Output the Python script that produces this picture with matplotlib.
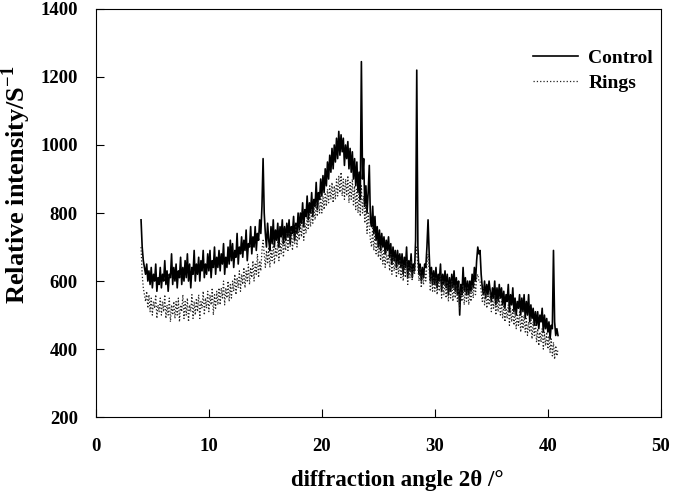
import numpy as np
import matplotlib.pyplot as plt

plt.rcParams['font.family'] = ['Liberation Serif', 'DejaVu Serif']
plt.rcParams['font.weight'] = 'bold'
plt.rcParams['mathtext.fontset'] = 'custom'
plt.rcParams['mathtext.rm'] = 'Liberation Serif:bold'
plt.rcParams['mathtext.bf'] = 'Liberation Serif:bold'

# diffraction angle, 4.0 .. 40.9 in 0.1 steps
angle = np.round(np.arange(4.0, 41.0, 0.1), 1)

control = [
    780, 700, 660, 640, 620, 650, 600, 630, 590, 640,
    580, 620, 600, 650, 570, 610, 590, 640, 580, 620,
    600, 660, 590, 630, 570, 620, 610, 680, 590, 640,
    600, 650, 580, 630, 610, 670, 590, 640, 600, 660,
    610, 680, 600, 650, 580, 640, 620, 690, 600, 650,
    620, 670, 600, 660, 630, 690, 610, 650, 620, 680,
    630, 690, 610, 660, 640, 700, 620, 670, 640, 690,
    630, 680, 650, 710, 620, 670, 640, 700, 650, 720,
    660, 710, 640, 690, 670, 740, 650, 700, 680, 730,
    670, 720, 690, 750, 660, 710, 700, 760, 680, 730,
    700, 760, 690, 740, 720, 780, 740, 820, 960, 800,
    740, 700, 770, 720, 690, 760, 710, 780, 700, 750,
    720, 770, 700, 760, 730, 780, 710, 760, 720, 770,
    730, 780, 710, 760, 740, 790, 720, 770, 740, 800,
    750, 800, 770, 830, 760, 810, 790, 850, 780, 830,
    800, 860, 790, 840, 820, 890, 810, 860, 840, 900,
    850, 910, 860, 930, 880, 950, 900, 970, 920, 990,
    930, 1000, 950, 1020, 960, 1040, 970, 1030, 980, 1020,
    940, 1000, 960, 1010, 930, 990, 920, 980, 900, 960,
    880, 950, 860, 920, 840, 1245, 900, 960, 820, 880,
    800, 860, 940, 780, 760, 820, 740, 790, 720, 760,
    700, 750, 690, 740, 700, 730, 680, 720, 690, 730,
    670, 710, 650, 700, 660, 690, 640, 690, 650, 680,
    640, 680, 620, 670, 640, 700, 610, 660, 630, 680,
    610, 650, 630, 720, 1220, 700, 620, 650, 600, 640,
    610, 650, 640, 700, 780, 680, 600, 640, 590, 630,
    590, 640, 580, 620, 600, 650, 570, 620, 590, 630,
    580, 620, 560, 610, 570, 620, 580, 630, 570, 610,
    560, 600, 500, 590, 560, 640, 570, 610, 560, 600,
    560, 600, 570, 620, 580, 640, 600, 660, 700, 680,
    690, 620, 580, 560, 600, 550, 590, 560, 600, 570,
    540, 580, 550, 600, 530, 580, 540, 590, 550, 580,
    530, 570, 520, 560, 540, 590, 510, 560, 530, 580,
    510, 550, 500, 540, 520, 560, 500, 550, 510, 560,
    490, 540, 500, 560, 480, 530, 490, 520, 470, 510,
    470, 510, 460, 500, 480, 520, 450, 500, 460, 490,
    450, 480, 430, 470, 460, 690, 480, 440, 460, 440,
]

rings = [
    700, 620, 580, 560, 540, 570, 520, 560, 510, 550,
    500, 540, 520, 560, 490, 530, 510, 550, 500, 540,
    510, 560, 490, 530, 500, 550, 480, 530, 500, 540,
    490, 540, 500, 550, 480, 530, 510, 560, 490, 540,
    500, 550, 480, 530, 510, 560, 490, 540, 500, 550,
    510, 560, 490, 540, 520, 570, 500, 550, 520, 570,
    510, 560, 530, 580, 500, 560, 520, 570, 530, 580,
    530, 580, 550, 600, 530, 580, 550, 600, 540, 590,
    550, 600, 570, 620, 560, 610, 580, 630, 570, 620,
    590, 640, 580, 630, 600, 650, 590, 640, 610, 660,
    600, 650, 620, 680, 610, 660, 630, 690, 720, 680,
    640, 690, 650, 700, 640, 690, 660, 710, 650, 700,
    670, 720, 660, 710, 680, 730, 670, 720, 690, 740,
    690, 740, 700, 750, 690, 740, 710, 760, 700, 750,
    720, 770, 730, 780, 720, 770, 740, 790, 750, 800,
    760, 810, 770, 820, 780, 830, 790, 840, 800, 850,
    800, 850, 810, 860, 820, 870, 830, 880, 840, 890,
    830, 880, 840, 900, 850, 910, 860, 920, 850, 900,
    840, 900, 850, 910, 830, 890, 840, 900, 820, 880,
    810, 870, 800, 860, 790, 880, 800, 850, 770, 830,
    740, 800, 760, 720, 700, 760, 690, 740, 680, 720,
    670, 710, 660, 700, 650, 690, 640, 690, 650, 680,
    630, 680, 620, 670, 630, 670, 610, 660, 620, 660,
    610, 650, 600, 650, 610, 660, 590, 640, 610, 660,
    600, 640, 620, 670, 700, 640, 600, 640, 580, 620,
    590, 630, 600, 650, 680, 630, 570, 620, 570, 610,
    570, 610, 560, 600, 570, 620, 550, 600, 560, 600,
    550, 600, 540, 590, 550, 600, 540, 590, 550, 590,
    540, 580, 520, 570, 540, 590, 530, 580, 540, 580,
    530, 570, 540, 590, 550, 600, 560, 610, 620, 600,
    600, 570, 540, 580, 530, 570, 520, 560, 530, 570,
    510, 550, 520, 560, 500, 550, 510, 550, 500, 540,
    490, 530, 480, 520, 490, 530, 470, 520, 480, 520,
    470, 510, 460, 500, 470, 510, 450, 500, 460, 500,
    450, 490, 440, 480, 450, 490, 430, 480, 440, 480,
    420, 460, 410, 450, 420, 460, 400, 450, 410, 450,
    400, 440, 390, 430, 380, 420, 370, 410, 380, 400,
]

fig = plt.figure(figsize=(6.75, 4.96), dpi=100)
ax = fig.add_axes([0.142, 0.159, 0.837, 0.823])

ax.plot(angle, control, color='black', lw=1.2, label='Control')
ax.plot(angle, rings, color='#222222', lw=0.9, ls=':', label='Rings')

ax.set_xlim(0, 50)
ax.set_ylim(200, 1400)
ax.set_xticks(range(0, 51, 10))
ax.set_yticks(range(200, 1401, 200))
ax.tick_params(direction='in', length=6, labelsize=13.5)
ax.tick_params(axis='x', pad=15)
ax.tick_params(axis='y', pad=13)
for lab in ax.get_xticklabels() + ax.get_yticklabels():
    lab.set_fontweight('bold')

ax.set_xlabel('diffraction angle 2\u03b8 /\u00b0', fontsize=16.5, fontweight='bold')
ax.set_ylabel('Relative intensity/S$^{\\mathbf{-1}}$', fontsize=19, fontweight='bold')
ax.xaxis.set_label_coords(0.534, -0.13)
ax.yaxis.set_label_coords(-0.112, 0.57)

leg = fig.legend(loc='upper left', bbox_to_anchor=(0.775, 0.921), frameon=False,
                 handlelength=2.3, handletextpad=0.55, labelspacing=0.4, borderpad=0,
                 prop={'weight': 'bold', 'size': 14})

fig.savefig('out.png', dpi=100)
